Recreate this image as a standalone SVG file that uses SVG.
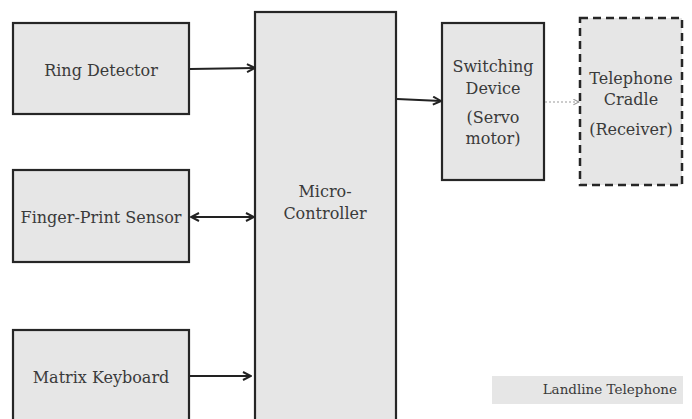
<svg xmlns="http://www.w3.org/2000/svg" width="692" height="419" viewBox="0 0 692 419">
<style>
.box{fill:#e6e6e6;stroke:#262626;stroke-width:2.2}
.dash{fill:#e6e6e6;stroke:#262626;stroke-width:2.5;stroke-dasharray:8,5}
.t{font-family:"DejaVu Serif","Liberation Serif",serif;font-size:16px;fill:#3a3a3a;text-anchor:middle}
.c{stroke:#222;stroke-width:2;fill:none}
.d{stroke:#999;stroke-width:1.2;stroke-dasharray:2,2;fill:none}
</style>
<defs>
<marker id="ah" viewBox="0 0 10 10" refX="9" refY="5" markerWidth="10" markerHeight="10" markerUnits="userSpaceOnUse" orient="auto-start-reverse">
<path d="M1,1 L9,5 L1,9" fill="none" stroke="#222" stroke-width="2"/>
</marker>
<marker id="ahg" viewBox="0 0 10 10" refX="9" refY="5" markerWidth="7" markerHeight="7" markerUnits="userSpaceOnUse" orient="auto">
<path d="M1,1 L9,5 L1,9" fill="none" stroke="#999" stroke-width="1.5"/>
</marker>
</defs>
<rect width="692" height="419" fill="#fff"/>
<g id="ring-detector">
<rect class="box" x="13" y="23" width="176" height="91"/>
<text class="t" x="101" y="76">Ring Detector</text>
</g>
<g id="finger-print-sensor">
<rect class="box" x="13" y="170" width="176" height="92"/>
<text class="t" x="101" y="223">Finger-Print Sensor</text>
</g>
<g id="matrix-keyboard">
<rect class="box" x="13" y="330" width="176" height="100"/>
<text class="t" x="101" y="383">Matrix Keyboard</text>
</g>
<g id="micro-controller">
<rect class="box" x="255" y="12" width="141" height="420"/>
<text class="t" x="325" y="197">Micro-</text>
<text class="t" x="325" y="219">Controller</text>
</g>
<g id="switching-device">
<rect class="box" x="442" y="23" width="102" height="157"/>
<text class="t" x="493" y="72">Switching</text>
<text class="t" x="493" y="94">Device</text>
<text class="t" x="493" y="123">(Servo</text>
<text class="t" x="493" y="144">motor)</text>
</g>
<g id="telephone-cradle">
<rect class="dash" x="580" y="18" width="102" height="167"/>
<text class="t" x="631" y="84">Telephone</text>
<text class="t" x="631" y="105">Cradle</text>
<text class="t" x="631" y="135">(Receiver)</text>
</g>
<g id="legend">
<rect x="492" y="376" width="191" height="28" fill="#e6e6e6"/>
<text x="677" y="394" style="font-family:'DejaVu Serif','Liberation Serif',serif;font-size:13.5px;fill:#3a3a3a;text-anchor:end">Landline Telephone</text>
</g>
<g id="connectors">
<line class="c" x1="190" y1="69" x2="255" y2="68" marker-end="url(#ah)"/>
<line class="c" x1="191" y1="217" x2="254" y2="217" marker-start="url(#ah)" marker-end="url(#ah)"/>
<line class="c" x1="190" y1="376" x2="251" y2="376" marker-end="url(#ah)"/>
<line class="c" x1="397" y1="99" x2="441" y2="101" marker-end="url(#ah)"/>
<line class="d" x1="545" y1="102" x2="579" y2="102" marker-end="url(#ahg)"/>
</g>
</svg>
